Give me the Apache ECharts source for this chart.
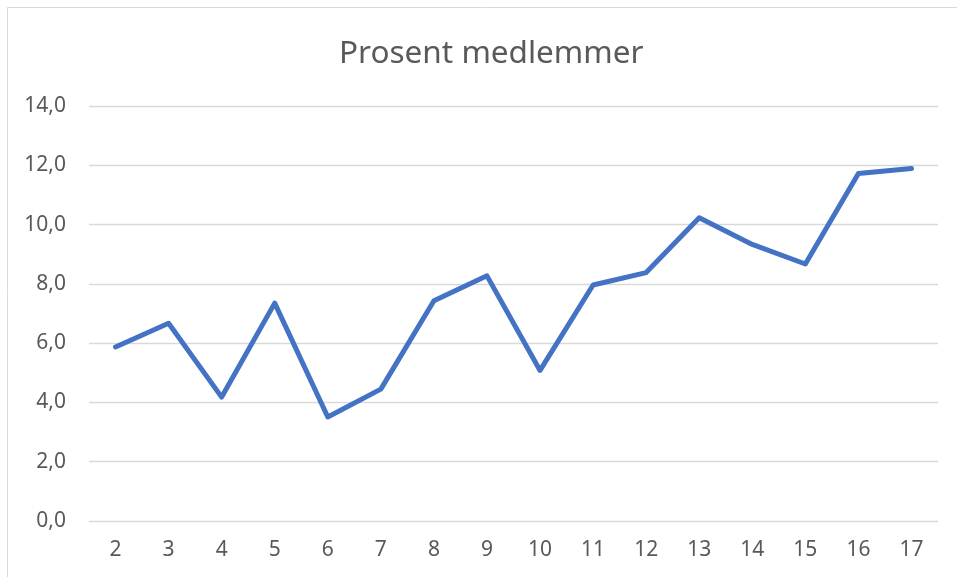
<!DOCTYPE html>
<html>
<head>
<meta charset="utf-8">
<script src="https://cdn.jsdelivr.net/npm/echarts@6/dist/echarts.min.js"></script>
<style>
html,body{margin:0;padding:0;background:#fff;}
#main{width:957px;height:577px;}
</style>
</head>
<body>
<div id="main"></div>
<script>
const titleText = "Prosent medlemmer";
const categories = ["2","3","4","5","6","7","8","9","10","11","12","13","14","15","16","17"];
const values = [5.87, 6.67, 4.18, 7.35, 3.51, 4.45, 7.43, 8.27, 5.08, 7.96, 8.38, 10.23, 9.33, 8.67, 11.72, 11.89];
const yMin = 0, yMax = 14, yStep = 2;

const chart = echarts.init(document.getElementById('main'), null, {renderer: 'canvas'});
chart.setOption({
  backgroundColor: '#ffffff',
  animation: false,
  title: {
    text: titleText,
    left: 334,
    top: 33,
    textStyle: {fontFamily: 'Noto Sans', fontSize: 31.5, fontWeight: 'normal', color: '#595959'}
  },
  graphic: [{
    type: 'rect',
    shape: {x: 7.5, y: 7.5, width: 1000, height: 1000},
    style: {fill: 'none', stroke: '#d9d9d9', lineWidth: 1},
    silent: true
  }],
  grid: {left: 89, right: 19, top: 106, bottom: 56, containLabel: false},
  xAxis: {
    type: 'category',
    data: categories,
    boundaryGap: true,
    axisLine: {show: false},
    axisTick: {show: false},
    axisLabel: {fontFamily: 'Noto Sans', fontSize: 21, color: '#595959', margin: 19}
  },
  yAxis: {
    type: 'value',
    min: yMin, max: yMax, interval: yStep,
    axisLine: {show: false},
    axisTick: {show: false},
    splitLine: {lineStyle: {color: '#d9d9d9', width: 1.3}},
    axisLabel: {
      fontFamily: 'Noto Sans', fontSize: 21, color: '#595959', margin: 23,
      formatter: v => v.toFixed(1).replace('.', ',')
    }
  },
  series: [{
    type: 'line',
    data: values,
    symbol: 'none',
    lineStyle: {color: '#4472C4', width: 5, cap: 'round', join: 'round'},
    itemStyle: {color: '#4472C4'}
  }]
});
</script>
</body>
</html>
